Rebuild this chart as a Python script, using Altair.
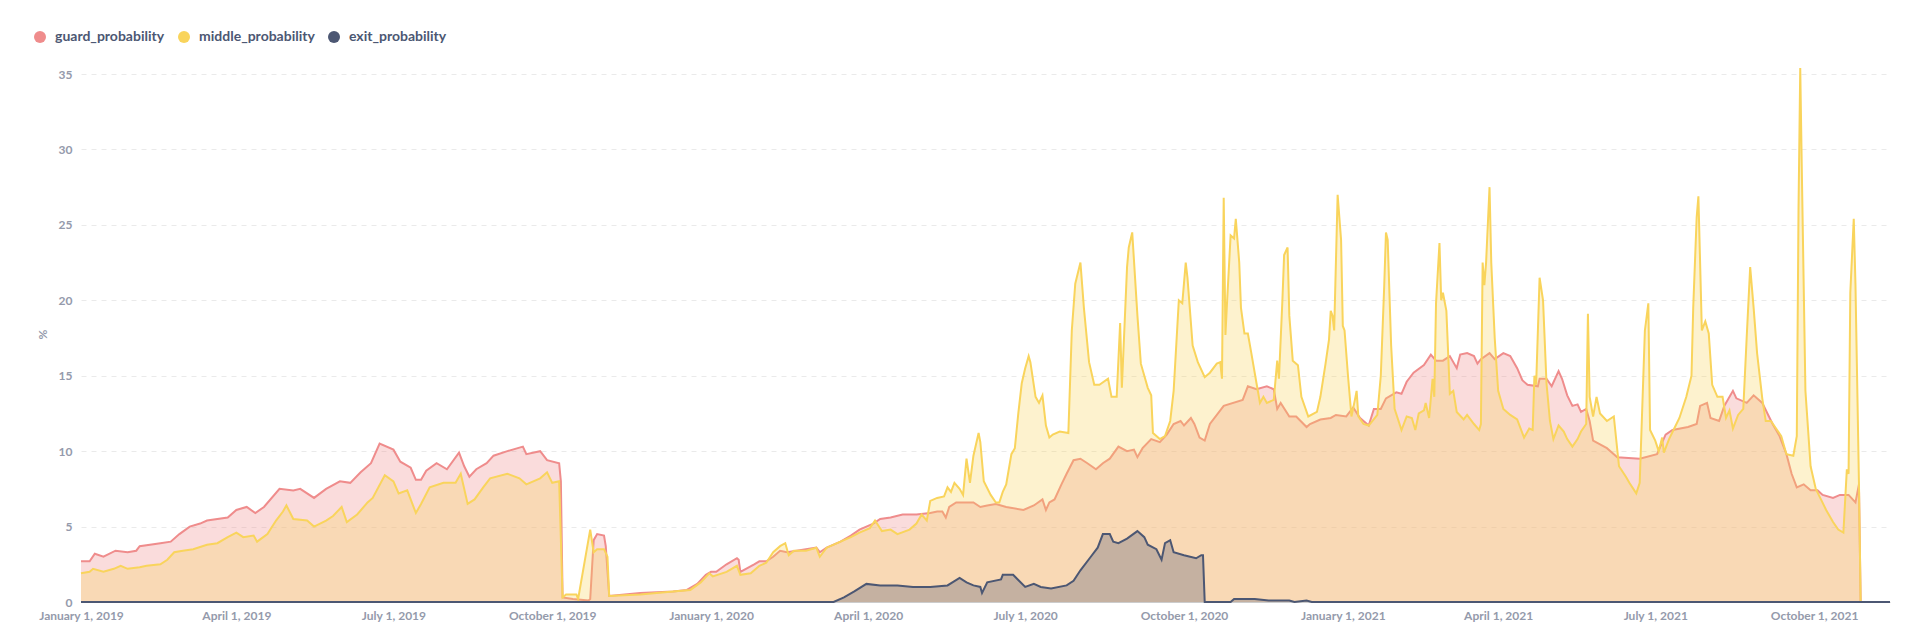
import altair as alt
import pandas as pd

START = "2019-01-01"
series_names = ["guard_probability", "middle_probability", "exit_probability"]
series_colors = ["#EF8C8C", "#F9D45C", "#4C5773"]

# day offsets from 2019-01-01 and values (%)
guard_days = [0, 5, 8, 13, 20, 27, 32, 34, 46, 52, 57, 63, 69, 73, 85, 90, 96, 101, 106, 115, 123, 127, 135, 142, 150, 156, 162, 168, 173, 181, 185, 191, 194, 197, 200, 206, 212, 219, 222, 225, 229, 235, 239, 247, 256, 258, 266, 270, 277, 278, 279, 285, 294, 295, 297, 299, 303, 304, 306, 324, 343, 351, 357, 362, 365, 368, 374, 380, 381, 382, 390, 393, 397, 401, 405, 409, 420, 426, 428, 432, 440, 446, 451, 459, 463, 469, 476, 484, 492, 496, 499, 501, 503, 507, 517, 521, 525, 530, 536, 546, 552, 557, 559, 561, 564, 568, 571, 575, 579, 583, 588, 592, 596, 601, 606, 610, 612, 615, 620, 625, 629, 633, 637, 639, 643, 645, 648, 651, 654, 662, 673, 676, 681, 687, 691, 693, 695, 700, 704, 710, 712, 718, 724, 727, 733, 737, 741, 746, 749, 753, 756, 762, 765, 768, 772, 778, 782, 785, 789, 793, 797, 799, 803, 807, 809, 811, 816, 819, 824, 828, 832, 835, 838, 844, 845, 849, 852, 856, 858, 861, 864, 867, 869, 872, 874, 876, 884, 890, 903, 913, 918, 922, 931, 936, 938, 942, 944, 949, 952, 957, 959, 965, 969, 974, 977, 980, 984, 988, 991, 994, 998, 1002, 1006, 1009, 1015, 1019, 1024, 1028, 1030, 1031]
guard_vals = [2.7, 2.7, 3.2, 3.0, 3.4, 3.3, 3.4, 3.7, 3.9, 4.0, 4.5, 5.0, 5.2, 5.4, 5.6, 6.1, 6.3, 5.9, 6.3, 7.5, 7.4, 7.5, 6.9, 7.5, 8.0, 7.9, 8.6, 9.2, 10.5, 10.1, 9.3, 8.9, 8.1, 8.1, 8.7, 9.2, 8.8, 9.9, 9.0, 8.3, 8.8, 9.2, 9.7, 10.0, 10.3, 9.8, 10.0, 9.4, 9.2, 8.0, 0.3, 0.2, 0.1, 0.2, 4.1, 4.5, 4.4, 3.7, 0.4, 0.6, 0.7, 0.8, 1.2, 1.8, 2.0, 2.0, 2.5, 2.9, 2.8, 2.0, 2.5, 2.7, 2.7, 3.0, 3.4, 3.3, 3.5, 3.6, 3.3, 3.6, 4.0, 4.4, 4.8, 5.2, 5.5, 5.6, 5.8, 5.8, 5.9, 6.0, 6.0, 5.6, 6.3, 6.6, 6.6, 6.3, 6.4, 6.5, 6.3, 6.1, 6.4, 6.8, 6.1, 6.6, 6.8, 7.8, 8.5, 9.4, 9.5, 9.2, 8.8, 9.2, 9.5, 10.3, 10.0, 10.1, 9.6, 10.2, 10.8, 10.6, 11.1, 11.8, 12.0, 11.7, 12.2, 11.8, 10.9, 10.7, 11.8, 13.0, 13.4, 14.3, 14.1, 14.3, 14.1, 12.8, 13.2, 12.3, 12.3, 11.6, 11.8, 12.1, 12.2, 12.4, 12.3, 12.9, 12.2, 11.7, 12.8, 12.8, 13.5, 13.9, 13.8, 14.6, 15.2, 15.7, 16.4, 16.0, 16.0, 16.3, 15.5, 16.4, 16.5, 16.3, 15.8, 16.1, 16.5, 16.1, 16.5, 16.3, 15.5, 14.7, 14.4, 14.3, 14.8, 14.8, 14.3, 15.3, 14.8, 13.7, 13.0, 13.1, 12.6, 12.8, 12.0, 10.7, 10.2, 9.6, 9.5, 9.8, 11.1, 11.4, 11.6, 11.8, 13.0, 13.2, 12.2, 12.0, 13.0, 14.0, 13.5, 13.2, 13.7, 13.2, 12.5, 11.8, 11.0, 9.8, 8.5, 7.6, 7.8, 7.4, 7.4, 7.1, 6.9, 7.1, 7.1, 6.6, 7.8, 0.0]

middle_days = [0, 5, 7, 13, 19, 23, 27, 34, 38, 46, 50, 54, 59, 65, 73, 79, 85, 90, 94, 100, 102, 108, 113, 117, 119, 123, 131, 135, 142, 146, 151, 154, 160, 166, 169, 176, 181, 184, 189, 194, 197, 202, 210, 217, 220, 224, 228, 233, 237, 247, 254, 258, 266, 270, 273, 277, 279, 281, 287, 288, 295, 297, 299, 303, 305, 306, 324, 343, 353, 359, 364, 366, 374, 380, 382, 388, 393, 397, 401, 405, 408, 410, 413, 420, 426, 428, 432, 440, 446, 451, 457, 460, 464, 469, 473, 480, 484, 487, 490, 492, 496, 500, 502, 504, 506, 509, 511, 513, 515, 517, 520, 521, 523, 527, 530, 532, 534, 536, 539, 541, 543, 545, 547, 549, 550, 553, 555, 557, 559, 561, 563, 567, 572, 574, 576, 579, 581, 584, 587, 590, 595, 597, 600, 602, 603, 606, 607, 609, 612, 614, 618, 620, 621, 625, 628, 631, 633, 636, 638, 640, 641, 644, 647, 651, 654, 658, 660, 661, 662, 663, 664, 666, 668, 669, 671, 672, 674, 676, 678, 681, 683, 685, 687, 691, 693, 694, 696, 697, 699, 700, 702, 705, 707, 711, 716, 718, 721, 723, 724, 725, 726, 728, 730, 731, 732, 734, 736, 738, 739, 740, 743, 746, 751, 753, 755, 756, 757, 759, 761, 765, 768, 771, 773, 775, 778, 779, 781, 783, 784, 785, 787, 788, 789, 791, 793, 795, 797, 801, 803, 807, 810, 811, 812, 813, 814, 816, 817, 819, 821, 824, 828, 832, 836, 839, 841, 842, 843, 845, 847, 849, 851, 853, 856, 859, 861, 864, 867, 869, 872, 873, 874, 876, 878, 880, 884, 888, 891, 895, 897, 901, 903, 906, 908, 909, 912, 914, 916, 917, 920, 923, 926, 930, 933, 934, 936, 937, 939, 941, 943, 945, 948, 951, 953, 955, 957, 960, 963, 965, 967, 969, 971, 974, 976, 979, 982, 985, 988, 992, 994, 995, 996, 997, 999, 1002, 1005, 1008, 1011, 1015, 1018, 1021, 1023, 1024, 1025, 1027, 1028, 1030, 1031]
middle_vals = [1.9, 2.0, 2.2, 2.0, 2.2, 2.4, 2.2, 2.3, 2.4, 2.5, 2.8, 3.3, 3.4, 3.5, 3.8, 3.9, 4.3, 4.6, 4.3, 4.4, 4.0, 4.5, 5.4, 6.0, 6.4, 5.5, 5.4, 5.0, 5.4, 5.7, 6.3, 5.3, 5.8, 6.6, 6.9, 8.4, 8.0, 7.2, 7.4, 5.9, 6.5, 7.6, 7.9, 7.9, 8.5, 6.5, 6.8, 7.6, 8.2, 8.5, 8.2, 7.8, 8.2, 8.6, 7.9, 8.0, 0.3, 0.5, 0.5, 0.2, 4.8, 3.3, 3.5, 3.5, 3.0, 0.4, 0.5, 0.7, 0.8, 1.3, 1.9, 1.7, 2.0, 2.4, 1.8, 1.9, 2.4, 2.6, 3.3, 3.7, 3.9, 3.1, 3.4, 3.4, 3.6, 3.0, 3.6, 4.0, 4.3, 4.6, 4.9, 5.4, 4.7, 4.8, 4.5, 4.8, 5.2, 5.8, 5.4, 6.7, 6.9, 7.0, 7.6, 7.3, 7.9, 7.5, 7.1, 9.5, 7.9, 9.7, 11.2, 10.6, 8.0, 7.1, 6.6, 6.6, 7.3, 7.8, 9.8, 10.2, 12.5, 14.5, 15.5, 16.3, 15.9, 13.6, 13.2, 13.7, 11.7, 10.9, 11.1, 11.3, 11.2, 18.0, 21.1, 22.5, 19.5, 15.9, 14.4, 14.4, 14.8, 13.6, 13.6, 18.5, 14.2, 22.2, 23.5, 24.5, 19.0, 15.8, 14.2, 13.7, 11.2, 10.8, 11.0, 12.0, 14.0, 20.0, 19.8, 22.5, 21.5, 17.0, 15.9, 14.9, 15.2, 15.8, 15.9, 14.8, 26.8, 17.7, 20.0, 24.3, 24.1, 25.4, 22.5, 19.5, 17.8, 17.8, 16.5, 14.5, 13.2, 13.6, 13.2, 13.4, 16.0, 14.8, 20.0, 23.0, 23.5, 19.0, 16.0, 15.7, 13.6, 12.3, 12.6, 13.6, 15.8, 17.4, 19.3, 19.0, 18.0, 27.0, 24.0, 18.3, 18.0, 15.0, 12.3, 13.4, 14.0, 12.3, 11.8, 11.7, 12.4, 15.0, 21.0, 24.5, 24.0, 17.0, 12.8, 11.4, 12.3, 12.2, 11.4, 12.5, 12.7, 13.2, 12.2, 14.8, 13.6, 19.8, 23.8, 20.0, 20.5, 19.3, 13.8, 14.0, 12.6, 12.1, 12.4, 11.8, 11.4, 11.8, 22.5, 21.0, 22.5, 27.5, 22.5, 17.5, 14.0, 12.8, 12.4, 12.1, 10.9, 11.5, 11.4, 15.0, 14.4, 21.5, 20.0, 14.5, 12.0, 10.8, 11.7, 11.3, 10.8, 10.3, 10.8, 11.3, 11.8, 19.1, 13.6, 12.3, 13.6, 12.5, 12.0, 12.3, 9.0, 8.3, 7.9, 7.2, 7.9, 18.0, 19.8, 11.4, 10.7, 10.0, 10.9, 9.9, 10.8, 11.5, 12.2, 13.6, 15.0, 19.5, 25.5, 26.9, 18.0, 18.6, 17.8, 14.4, 13.6, 13.6, 12.2, 12.7, 11.5, 12.4, 12.8, 17.6, 22.2, 19.5, 16.5, 13.5, 12.0, 12.0, 11.5, 11.0, 9.8, 9.7, 11.0, 26.0, 35.4, 28.0, 14.0, 9.0, 7.5, 6.8, 6.1, 5.3, 4.8, 4.6, 8.8, 8.5, 20.5, 25.4, 21.0, 8.0, 0.0]

exit_days = [0, 436, 442, 448, 455, 463, 473, 482, 492, 502, 509, 513, 517, 521, 522, 525, 533, 534, 540, 547, 552, 556, 562, 571, 575, 579, 585, 589, 592, 596, 598, 601, 606, 612, 616, 618, 623, 626, 628, 631, 633, 639, 646, 649, 650, 651, 666, 668, 680, 688, 700, 703, 710, 713, 1048]
exit_vals = [0.0, 0.0, 0.3, 0.7, 1.2, 1.1, 1.1, 1.0, 1.0, 1.1, 1.6, 1.3, 1.1, 1.0, 0.6, 1.3, 1.5, 1.8, 1.8, 1.0, 1.2, 1.0, 0.9, 1.1, 1.4, 2.1, 3.0, 3.6, 4.5, 4.5, 4.0, 3.9, 4.2, 4.7, 4.3, 3.8, 3.5, 2.8, 3.9, 4.1, 3.3, 3.1, 2.9, 3.1, 3.1, 0.0, 0.0, 0.2, 0.2, 0.1, 0.1, 0.0, 0.1, 0.0, 0.0]

tick_dates = ["2019-01-01", "2019-04-01", "2019-07-01", "2019-10-01",
              "2020-01-01", "2020-04-01", "2020-07-01", "2020-10-01",
              "2021-01-01", "2021-04-01", "2021-07-01", "2021-10-01"]
x_domain = ["2019-01-01", "2021-11-14"]
y_ticks = [0, 5, 10, 15, 20, 25, 30, 35]


def frame(name, days, vals):
    return pd.DataFrame({
        "date": pd.Timestamp(START) + pd.to_timedelta(days, unit="D"),
        "value": vals,
        "series": name,
    })


def to_dt(s):
    y, m, d = (int(p) for p in s.split("-"))
    return alt.DateTime(year=y, month=m, date=d)


LABEL = "#949AAB"
FONT = "Lato"

x_enc = alt.X(
    "date:T",
    title=None,
    scale=alt.Scale(domain=[to_dt(s) for s in x_domain]),
    axis=alt.Axis(
        values=[to_dt(s) for s in tick_dates],
        format="%B %-d, %Y",
        grid=False,
        ticks=False,
        domain=True,
        domainColor="#CCCCCC",
        labelFlush=False,
        labelOverlap=False,
        labelPadding=8,
        labelFontSize=12,
        labelFont=FONT,
        labelFontWeight="bold",
        labelColor=LABEL,
    ),
)
y_enc = alt.Y(
    "value:Q",
    stack=None,
    title="%",
    scale=alt.Scale(domain=[0, 35.4], nice=False, zero=True),
    axis=alt.Axis(
        values=y_ticks,
        grid=True,
        gridDash=[5, 5],
        gridColor="#EAEAEA",
        domain=False,
        ticks=False,
        labelPadding=9,
        labelFontSize=12,
        labelFont=FONT,
        labelFontWeight="bold",
        labelColor=LABEL,
        titleFont=FONT,
        titleFontSize=12,
        titleFontWeight="bold",
        titleColor=LABEL,
        titleAngle=-90,
        titleX=-39,
        titleY=266,
        titleAlign="center",
        titleBaseline="middle",
    ),
)
color_enc = alt.Color(
    "series:N",
    scale=alt.Scale(domain=series_names, range=series_colors),
    legend=alt.Legend(
        title=None,
        orient="none",
        direction="horizontal",
        legendX=-48,
        legendY=-38,
        symbolType="circle",
        symbolSize=144,
        symbolOpacity=1,
        symbolStrokeWidth=0,
        labelFont=FONT,
        labelFontSize=14,
        labelFontWeight="bold",
        labelColor="#4C5773",
        labelOffset=8,
        columnPadding=12,
    ),
)


def layer(df):
    return alt.Chart(df).mark_area(
        line={"strokeWidth": 2},
        fillOpacity=0.3,
        interpolate="linear",
    ).encode(x=x_enc, y=y_enc, color=color_enc)


chart = alt.layer(
    layer(frame("guard_probability", guard_days, guard_vals)),
    layer(frame("middle_probability", middle_days, middle_vals)),
    layer(frame("exit_probability", exit_days, exit_vals)),
).properties(
    width=1809,
    height=534,
    background="white",
    autosize=alt.AutoSizeParams(type="none"),
    padding={"left": 81, "top": 68, "right": 28, "bottom": 27},
).configure_view(stroke=None)

chart.save("out.html", embed_options={"renderer": "svg", "actions": False})
